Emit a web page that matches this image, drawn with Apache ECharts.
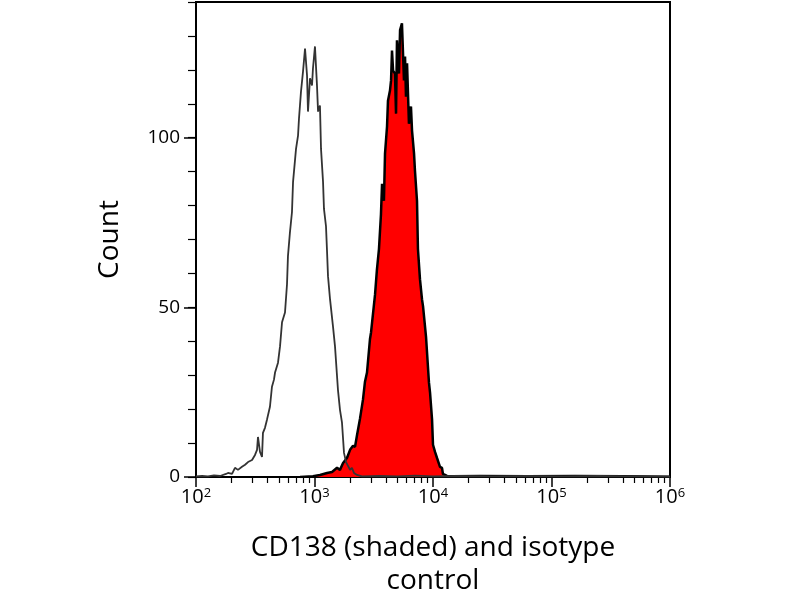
<!DOCTYPE html>
<html>
<head>
<meta charset="utf-8">
<script src="https://cdn.jsdelivr.net/npm/echarts@6/dist/echarts.min.js"></script>
<style>
  html, body { margin: 0; padding: 0; background: #fff; }
  #main { width: 800px; height: 600px; }
</style>
</head>
<body>
<div id="main"></div>
<script>
// x values are log10 of the fluorescence intensity (2 = 10^2 ... 6 = 10^6)
const isoLog = [2.000, 2.051, 2.101, 2.152, 2.203, 2.253, 2.270, 2.304, 2.329, 2.354, 2.388, 2.414, 2.439, 2.473,
  2.498, 2.515, 2.523, 2.540, 2.557, 2.565, 2.582, 2.599, 2.624, 2.641, 2.658, 2.667, 2.692, 2.709, 2.726,
  2.751, 2.768, 2.776, 2.793, 2.810, 2.819, 2.844, 2.861, 2.869, 2.886, 2.903, 2.920, 2.937, 2.945, 2.962,
  2.979, 2.987, 3.004, 3.021, 3.030, 3.046, 3.055, 3.072, 3.080, 3.097, 3.106, 3.114, 3.131, 3.156, 3.173,
  3.198, 3.215, 3.232, 3.249, 3.266, 3.283, 3.300, 3.316, 3.333, 3.359, 3.401, 3.550, 3.700, 3.850, 4.000,
  4.200, 4.500, 4.800, 5.100, 5.400, 5.700, 6.000];
const isoCount = [0.2, 0.3, 0.2, 0.5, 0.3, 0.9, 1.2, 0.9, 2.7, 2.1, 3.0, 3.6, 4.4, 5.0,
  6.5, 8.0, 11.8, 7.4, 5.9, 13.0, 14.5, 16.9, 20.7, 26.6, 28.7, 30.8, 33.7, 38.5, 45.6,
  48.5, 56.8, 65.1, 72.2, 78.1, 87.0, 96.7, 100.6, 105.6, 113.6, 119.5, 126.3, 118.3, 107.7, 117.5,
  115.4, 120.4, 126.9, 115.4, 107.7, 109.5, 96.7, 87.0, 79.0, 73.9, 66.3, 59.2, 52.4, 44.4, 38.5,
  25.7, 19.8, 16.0, 7.1, 4.4, 3.3, 2.1, 2.7, 1.2, 0.6, 0.2, 0.3, 0.2, 0.4, 0.2,
  0.3, 0.2, 0.3, 0.2, 0.3, 0.2, 0.1];

const cdLog = [2.878, 2.987, 3.046, 3.106, 3.148, 3.190, 3.215, 3.241, 3.274, 3.300, 3.325, 3.342, 3.359,
  3.384, 3.409, 3.426, 3.443, 3.468, 3.477, 3.494, 3.511, 3.527, 3.544, 3.561, 3.570, 3.586, 3.595, 3.612,
  3.620, 3.637, 3.646, 3.654, 3.663, 3.679, 3.688, 3.696, 3.713, 3.722, 3.738, 3.747, 3.755, 3.764, 3.772,
  3.781, 3.797, 3.814, 3.823, 3.840, 3.848, 3.865, 3.873, 3.890, 3.907, 3.916, 3.941, 3.966, 3.975, 3.992,
  4.000, 4.017, 4.034, 4.059, 4.076, 4.084, 4.118, 4.160, 4.400, 4.800, 5.200, 5.600, 6.000];
const cdCount = [0.0, 0.2, 0.6, 1.2, 1.5, 2.7, 2.1, 4.1, 5.6, 8.0, 9.2, 8.9, 12.4,
  17.2, 22.8, 28.1, 30.8, 40.6, 42.6, 48.2, 53.8, 61.2, 67.2, 77.5, 86.4, 81.4, 95.3, 103.3,
  110.9, 113.9, 116.9, 125.7, 119.8, 118.9, 107.1, 128.7, 118.9, 131.7, 133.7, 124.9, 116.9, 123.9, 112.1,
  121.9, 104.1, 109.2, 102.1, 95.3, 90.2, 81.4, 67.2, 58.3, 52.4, 50.3, 41.4, 27.8, 24.9, 16.9,
  9.5, 7.4, 5.6, 3.0, 2.7, 0.9, 0.3, 0.2, 0.3, 0.2, 0.3, 0.2, 0.1];

const decades = [2, 3, 4, 5, 6];
const yMajor = [0, 50, 100];

const minorX = [];
for (let d = 2; d < 6; d++) {
  for (let k = 2; k <= 9; k++) minorX.push(d + Math.log10(k));
}

const font = 'Open Sans';
const chart = echarts.init(document.getElementById('main'));

chart.setOption({
  animation: false,
  grid: {
    left: 196, right: 130, top: 2, bottom: 123,
    outerBoundsMode: 'none',
    show: true, borderColor: '#000', borderWidth: 2, backgroundColor: 'transparent'
  },
  xAxis: [
    {
      type: 'value', min: 2, max: 6, position: 'bottom',
      axisLine: { lineStyle: { color: '#000', width: 2 } },
      axisTick: { customValues: decades, length: 10, lineStyle: { color: '#000', width: 1.5 } },
      splitLine: { show: false },
      axisLabel: {
        customValues: decades, margin: 10, color: '#000',
        formatter: v => '{b|10}{s|' + v + '}',
        rich: {
          b: { fontFamily: font, fontSize: 20, color: '#000' },
          s: { fontFamily: font, fontSize: 13, color: '#000', verticalAlign: 'top' }
        }
      },
      name: 'CD138 (shaded) and isotype\ncontrol',
      nameLocation: 'middle', nameGap: 55,
      nameTextStyle: { fontFamily: font, fontSize: 28, color: '#000', lineHeight: 33 }
    },
    {
      type: 'value', min: 2, max: 6, position: 'bottom',
      axisLine: { show: false },
      axisTick: { customValues: minorX, length: 6, lineStyle: { color: '#000', width: 1.2 } },
      axisLabel: { show: false },
      splitLine: { show: false }
    }
  ],
  yAxis: [
    {
      type: 'value', min: 0, max: 140, interval: 10, position: 'left',
      axisLine: { show: true, lineStyle: { color: '#000', width: 2 } },
      axisTick: { length: 8, lineStyle: { color: '#000', width: 1.2 } },
      axisLabel: { show: false },
      splitLine: { show: false },
      name: 'Count', nameLocation: 'middle', nameGap: 72, nameRotate: 90,
      nameTextStyle: { fontFamily: font, fontSize: 28, color: '#000' }
    },
    {
      type: 'value', min: 0, max: 140, position: 'left',
      axisLine: { show: false },
      axisTick: { customValues: yMajor, length: 12, lineStyle: { color: '#000', width: 1.5 } },
      axisLabel: { customValues: yMajor, margin: 16, fontFamily: font, fontSize: 19, color: '#000' },
      splitLine: { show: false }
    }
  ],
  series: [
    {
      name: 'CD138',
      type: 'line',
      data: cdLog.map((x, i) => [x, cdCount[i]]),
      showSymbol: false,
      lineStyle: { color: '#000', width: 2.5 },
      areaStyle: { color: '#ff0000', opacity: 1 },
      z: 2
    },
    {
      name: 'Isotype control',
      type: 'line',
      data: isoLog.map((x, i) => [x, isoCount[i]]),
      showSymbol: false,
      lineStyle: { color: '#333', width: 1.8 },
      z: 3
    }
  ]
});
</script>
</body>
</html>
